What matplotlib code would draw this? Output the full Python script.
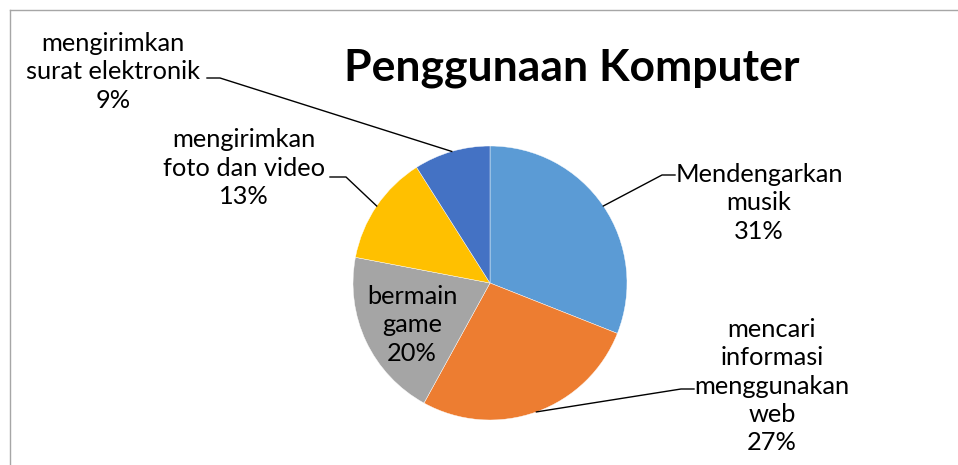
import matplotlib.pyplot as plt
import numpy as np
from matplotlib.lines import Line2D

# Pie data (percent), clockwise from 12 o'clock
names = ["Mendengarkan\nmusik", "mencari\ninformasi\nmenggunakan\nweb",
         "bermain\ngame", "mengirimkan\nfoto dan video",
         "mengirimkan\nsurat elektronik"]
values = [31, 27, 20, 13, 9]
colors = ["#5B9BD5", "#ED7D31", "#A5A5A5", "#FFC000", "#4472C4"]

W, H = 958, 465
CX, CY, R = 490, H - 283, 137
FONT = "Lato"
FS = 18.3

# label centres and leader elbows in pixel space (y from top)
label_pos = [(759, 203), (772, 386), (412, 325), (244, 168), (113, 72)]
elbows = [[(662, 175), (675, 175)], [(681, 389), (694, 389)], None,
          [(346, 177), (330, 177)], [(220, 78), (207, 78)]]

fig = plt.figure(figsize=(W / 100, H / 100), dpi=100)
ax = fig.add_axes([0, 0, 1, 1])
wedges, _ = ax.pie(values, colors=colors, startangle=90, counterclock=False,
                   center=(CX, CY), radius=R,
                   wedgeprops=dict(edgecolor="white", linewidth=0.3))
ax.set_xlim(0, W)
ax.set_ylim(0, H)
ax.set_aspect("auto")
ax.axis("off")

line_px = 32.5
ls = line_px / (FS * 100 / 72)
for w, name, v, (lx, ly), el in zip(wedges, names, values, label_pos, elbows):
    ax.text(lx, H - ly, f"{name}\n{v}%", ha="center", va="center",
            fontsize=FS, family=FONT, linespacing=ls, color="black")
    if el is None:
        continue
    mid = np.deg2rad((w.theta1 + w.theta2) / 2)
    xs = [CX + R * np.cos(mid)] + [p[0] for p in el]
    ys = [CY + R * np.sin(mid)] + [H - p[1] for p in el]
    ax.plot(xs, ys, color="black", lw=1.0)

ax.text(572, H - 68, "Penggunaan Komputer", ha="center", va="center",
        fontsize=32, fontweight="bold", family=FONT)

# chart frame (only left/top edges visible in the crop)
fig.add_artist(Line2D([10 / W, 10 / W], [0, 1 - 10 / H], transform=fig.transFigure,
                      color="#A6A6A6", lw=1))
fig.add_artist(Line2D([10 / W, 1], [1 - 10 / H, 1 - 10 / H], transform=fig.transFigure,
                      color="#A6A6A6", lw=1))

fig.savefig("out.png", dpi=100)
